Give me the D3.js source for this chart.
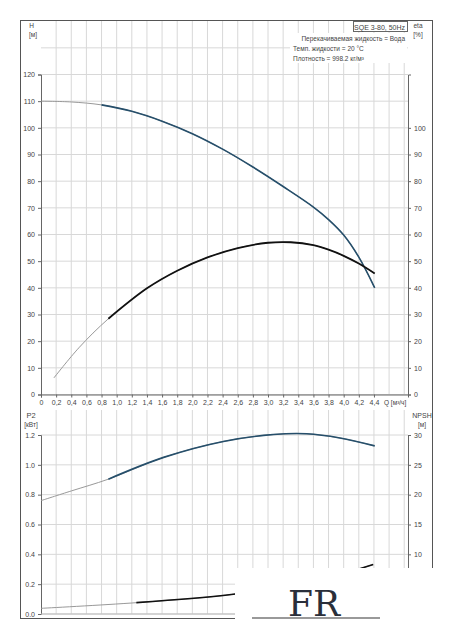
<!DOCTYPE html><html><head><meta charset="utf-8"><script src="https://cdn.jsdelivr.net/npm/d3@7"></script>
<style>body{margin:0;background:#fff}text{font-family:Arial,"Liberation Sans",sans-serif;fill:#444}</style></head><body><svg id="c" width="454" height="640"></svg>
<script>
const qTicks=d3.range(0,4.41,0.2);
const hData=[[0,110],[0.4,109.7],[0.8,108.6],[1.2,106.2],[1.6,102.5],[2.0,97.8],[2.4,92],[2.8,85.3],[3.2,78],[3.6,70.3],[3.8,65.6],[4.0,59.8],[4.2,51.5],[4.41,40]];
const etaData=[[0.17,6.2],[0.5,17.5],[0.89,28.4],[1.4,39.8],[1.8,46.4],[2.2,51.4],[2.6,54.9],[3.0,56.9],[3.3,57.1],[3.6,56],[3.8,54.3],[4.0,52],[4.2,49.1],[4.41,45.4]];
const p2Data=[[0,0.76],[0.4,0.825],[0.89,0.904],[1.62,1.05],[2.41,1.157],[3.07,1.203],[3.51,1.208],[3.95,1.18],[4.41,1.127]];
const npshData=[[0,0.95],[1.26,1.9],[2.54,3.3],[3.5,5.3],[4.0,6.8],[4.39,8.3]];
const hTicks=d3.range(0,121,10), etaTicks=d3.range(0,101,10);
const p2Ticks=[0,0.2,0.4,0.6,0.8,1.0,1.2], npshTicks=[10,15,20,25,30];
const svg=d3.select("#c");
const x=d3.scaleLinear().domain([0,4.85]).range([41,408]);
const yH=d3.scaleLinear().domain([0,120]).range([394.5,74.5]);
const yP=d3.scaleLinear().domain([0,1.2]).range([614,435]);
const yN=d3.scaleLinear().domain([0,30]).range([614,435]);
const grid="#d8d8d8";
svg.append("rect").attr("x",20.5).attr("y",20.5).attr("width",412).attr("height",598).attr("fill","none").attr("stroke","#555");
function panel(top,bot){
  d3.range(0.2,4.81,0.2).forEach(v=>svg.append("line").attr("x1",x(v)).attr("x2",x(v)).attr("y1",top).attr("y2",bot).attr("stroke",grid));
}
panel(21,394);panel(410,614);
hTicks.concat([130]).forEach(v=>svg.append("line").attr("x1",41).attr("x2",408).attr("y1",yH(v)).attr("y2",yH(v)).attr("stroke",grid));
p2Ticks.forEach(v=>svg.append("line").attr("x1",41).attr("x2",408).attr("y1",yP(v)).attr("y2",yP(v)).attr("stroke",grid));
const fs=7;
svg.append("g").attr("transform","translate(41,0)").call(d3.axisLeft(yH).tickValues(hTicks).tickSize(3).tickFormat(d3.format("d")));
svg.append("g").attr("transform","translate(408,0)").call(d3.axisRight(yH).tickValues(etaTicks).tickSize(3).tickFormat(d3.format("d")));
svg.append("g").attr("transform","translate(0,394.5)").call(d3.axisBottom(x).tickValues(qTicks).tickSize(3).tickFormat(d=>d===0?"0":d3.format(".1f")(d).replace(".",",")));
svg.append("g").attr("transform","translate(41,0)").call(d3.axisLeft(yP).tickValues(p2Ticks).tickSize(3).tickFormat(d3.format(".1f")));
svg.append("g").attr("transform","translate(408,0)").call(d3.axisRight(yN).tickValues(npshTicks).tickSize(3).tickFormat(d3.format("d")));
svg.selectAll(".domain").attr("stroke","#666");
svg.selectAll(".tick line").attr("stroke","#666");
svg.selectAll(".tick text").style("font-size",fs+"px").attr("fill","#444");
svg.append("line").attr("x1",41).attr("x2",408).attr("y1",614).attr("y2",614).attr("stroke","#bbb");
function t(xx,yy,s,anchor,size){svg.append("text").attr("x",xx).attr("y",yy).attr("text-anchor",anchor||"start").style("font-size",(size||fs)+"px").text(s);}
t(34,28,"H","end",6.5);t(37,37,"[м]","end",6.5);
t(418,28,"eta","middle",6.5);t(418,37,"[%]","middle",6.5);
t(384,404.5,"Q [м³/ч]","start",6.5);
t(31,418,"P2","middle",7.5);t(31,427,"[кВт]","middle",6.5);
t(422,418,"NPSH","middle",7);t(422,427,"[м]","middle",6.5);
svg.append("rect").attr("x",353.5).attr("y",21.5).attr("width",54).attr("height",10).attr("fill","#fff").attr("stroke","#666");
t(405,29.5,"SQE 3-80, 50Hz","end",7);
svg.append("rect").attr("x",290).attr("y",33).attr("width",117).attr("height",30).attr("fill","#fff");
t(405,41,"Перекачиваемая жидкость = Вода","end",6.5);
t(293,51,"Темп. жидкости = 20 °C","start",6.5);
t(293,61,"Плотность = 998.2 кг/м³","start",6.5);
function curve(data,ys,color,split,w){
  const line=d3.line().x(d=>x(d[0])).y(d=>ys(d[1])).curve(d3.curveCatmullRom.alpha(0.5));
  svg.append("path").attr("d",line(data)).attr("fill","none").attr("stroke","#999").attr("stroke-width",1);
  const hi=data.filter(d=>d[0]>=split);
  svg.append("path").attr("d",line(hi)).attr("fill","none").attr("stroke",color).attr("stroke-width",w||1.8);
}
curve(hData,yH,"#264f6b",0.8,1.6);
curve(etaData,yH,"#111",0.89);
curve(p2Data,yP,"#264f6b",0.89,1.6);
curve(npshData,yN,"#111",1.26,1.6);
svg.append("rect").attr("x",235).attr("y",568).attr("width",205).attr("height",60).attr("fill","#fff");
svg.append("text").attr("x",314).attr("y",616).attr("text-anchor","middle").style("font-size","36px").style("font-family","'DejaVu Serif',serif").style("fill","#2a2f3a").text("FR");
svg.append("line").attr("x1",252).attr("x2",380).attr("y1",618).attr("y2",618).attr("stroke","#999").attr("stroke-width",2);
</script></body></html>
